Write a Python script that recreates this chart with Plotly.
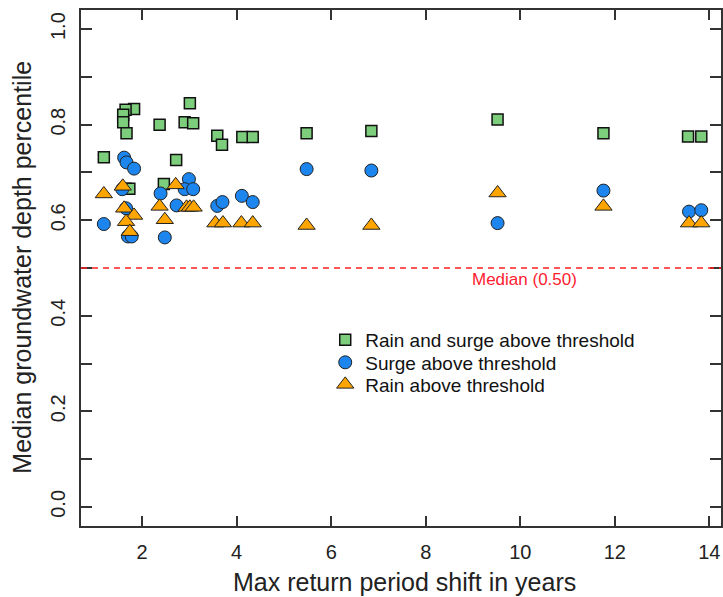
import plotly.graph_objects as go

# ---- data ----
both_x = [1.19, 1.83, 1.65, 1.60, 1.60, 1.67, 1.65, 1.73, 2.37, 2.72, 2.46, 3.01, 2.90, 3.08,
          3.59, 3.69, 4.12, 4.34, 5.48, 6.85, 9.52, 11.76, 13.55, 13.83]
both_y = [0.732, 0.833, 0.831, 0.821, 0.805, 0.782, 0.666, 0.666, 0.800, 0.726, 0.676, 0.845, 0.805, 0.803,
          0.777, 0.758, 0.774, 0.774, 0.782, 0.787, 0.811, 0.782, 0.775, 0.775]

surge_x = [1.19, 1.62, 1.67, 1.83, 1.58, 1.66, 1.70, 1.78, 2.39, 2.48, 2.73, 2.99, 2.90, 3.08,
           3.59, 3.70, 4.11, 4.34, 5.48, 6.85, 9.52, 11.76, 13.57, 13.83]
surge_y = [0.592, 0.731, 0.721, 0.708, 0.665, 0.625, 0.566, 0.566, 0.656, 0.564, 0.631, 0.686, 0.665, 0.665,
           0.630, 0.638, 0.651, 0.638, 0.707, 0.704, 0.594, 0.662, 0.618, 0.621]

rain_x = [1.19, 1.59, 1.62, 1.83, 1.66, 1.74, 2.37, 2.48, 2.71, 2.94, 3.01, 3.09,
          3.55, 3.71, 4.10, 4.34, 5.48, 6.85, 9.52, 11.76, 13.57, 13.83]
rain_y = [0.655, 0.671, 0.625, 0.610, 0.597, 0.576, 0.629, 0.601, 0.674, 0.627, 0.627, 0.627,
          0.594, 0.594, 0.594, 0.594, 0.589, 0.589, 0.657, 0.629, 0.594, 0.594]

x_ticks = [2, 4, 6, 8, 10, 12, 14]
y_ticks = [0.0, 0.1, 0.2, 0.3, 0.4, 0.5, 0.6, 0.7, 0.8, 0.9, 1.0]
y_ticktext = ["0.0", "", "0.2", "", "0.4", "", "0.6", "", "0.8", "", "1.0"]

median_level = 0.5
median_label = "Median (0.50)"
x_title = "Max return period shift in years"
y_title = "Median groundwater depth percentile"

FONT = "Arial, 'Liberation Sans', sans-serif"
AX = "#333333"
TXT = "#222222"

fig = go.Figure()
fig.add_trace(go.Scatter(
    x=both_x, y=both_y, mode="markers", name="Rain and surge above threshold", legend="legend",
    marker=dict(symbol="square", size=11, color="#7CCD7C", line=dict(color="#111111", width=1.5))))
fig.add_trace(go.Scatter(
    x=surge_x, y=surge_y, mode="markers", name="Surge above threshold", legend="legend2",
    marker=dict(symbol="circle", size=13, color="#1C86EE", line=dict(color="#222222", width=1))))
fig.add_trace(go.Scatter(
    x=rain_x, y=rain_y, mode="markers", name="Rain above threshold", legend="legend3",
    marker=dict(symbol="triangle-up", size=15, color="#FFA500", line=dict(color="#222222", width=1))))

fig.add_shape(type="line", xref="paper", x0=0, x1=1, yref="y", y0=median_level, y1=median_level,
              line=dict(color="#FF2020", width=1.5, dash="6px,5px"))
fig.add_annotation(x=10.08, y=0.476, xref="x", yref="y", text=median_label, showarrow=False,
                   font=dict(family=FONT, size=17, color="#FF2030"))

# axis titles
fig.add_annotation(x=0.505, y=-0.1085, xref="paper", yref="paper", text=x_title, showarrow=False,
                   xanchor="center", yanchor="middle", font=dict(family=FONT, size=25, color=TXT))
fig.add_annotation(x=-0.0919, y=0.501, xref="paper", yref="paper", text=y_title, showarrow=False,
                   textangle=-90, xanchor="center", yanchor="middle", font=dict(family=FONT, size=25, color=TXT))

leg_common = dict(x=0.3816, xanchor="left", yanchor="middle", bgcolor="rgba(0,0,0,0)",
                  font=dict(family=FONT, size=19, color="#111111"))

fig.update_layout(
    width=723, height=597,
    margin=dict(l=81, r=0, t=10, b=71),
    paper_bgcolor="white", plot_bgcolor="white",
    font=dict(family=FONT, color=TXT),
    showlegend=True,
    legend=dict(y=0.3605, **leg_common),
    legend2=dict(y=0.3169, **leg_common),
    legend3=dict(y=0.2742, **leg_common),
    xaxis=dict(range=[0.707, 14.247], tickvals=x_ticks, ticks="inside", ticklen=10, tickwidth=1.5,
               tickcolor=AX, showline=True, linecolor=AX, linewidth=1.5, mirror="ticks",
               showgrid=False, zeroline=False, ticklabelstandoff=7,
               tickfont=dict(family=FONT, size=20, color=TXT)),
    yaxis=dict(range=[-0.04, 1.04], tickvals=y_ticks, ticktext=y_ticktext, tickangle=-90,
               ticks="inside", ticklen=11, tickwidth=1.5, tickcolor=AX, showline=True, linecolor=AX,
               linewidth=1.5, mirror="ticks", showgrid=False, zeroline=False, ticklabelstandoff=6,
               tickfont=dict(family=FONT, size=20, color=TXT)),
)

fig.write_html("out.html")
